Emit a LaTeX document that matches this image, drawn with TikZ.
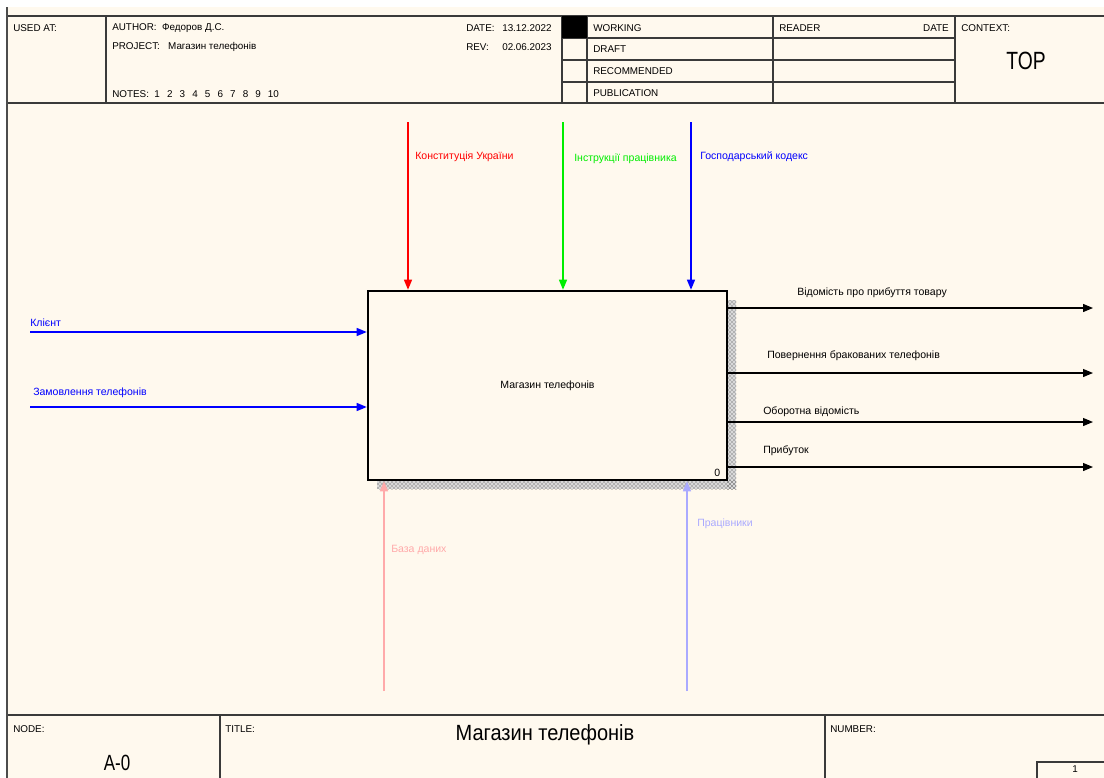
\documentclass[tikz,border=0pt]{standalone}
\usepackage{fontspec}
\setmainfont{Liberation Sans}
\usetikzlibrary{arrows.meta,patterns,calc}
\definecolor{bg}{HTML}{FFF9EE}
\definecolor{frame}{HTML}{3A3A3A}
\definecolor{ctrlred}{HTML}{FF0000}
\definecolor{ctrlgreen}{HTML}{00EE00}
\definecolor{ctrlblue}{HTML}{0000FF}
\definecolor{mechpink}{HTML}{FFAAAA}
\definecolor{mechblue}{HTML}{AAAAFF}
\tikzset{
  lbl/.style={inner sep=0pt, anchor=west, font=\fontsize{7.9}{9}\selectfont},
  hdr/.style={inner sep=0pt, anchor=west, font=\fontsize{7.4}{8.5}\selectfont},
  big/.style={inner sep=0pt, font=\fontsize{15}{17}\selectfont},
  arr/.style={-{Triangle[length=7.5pt,width=6pt]}, line width=0.9pt},
  grid/.style={draw=frame, line width=0.8pt},
}
\begin{document}
\begin{tikzpicture}[x=0.75pt,y=-0.75pt]
\useasboundingbox (0,0) rectangle (1104,778);
\fill[white] (0,0) rectangle (1104,778);
\fill[bg] (7,7) rectangle (1104,778);
% frame
\draw[line width=2pt, gray!60!black] (7,7) -- (7,778);
\draw[grid] (8,16) -- (1104,16);
\draw[grid] (8,103) -- (1104,103);
\draw[grid] (8,715) -- (1104,715);
\foreach \x in {106,562,587,773,955} \draw[grid] (\x,16) -- (\x,103);
\foreach \y in {38,60,82} \draw[grid] (562,\y) -- (955,\y);
\fill[black] (562,16) rectangle (587,38);
\draw[grid] (220,715) -- (220,778);
\draw[grid] (825,715) -- (825,778);
\draw[grid] (1037,778) -- (1037,762) -- (1104,762);
% header texts
\node[hdr] (usedat) at (13,28) {USED AT:};
\node[hdr] (author) at (112,28) {AUTHOR:\ \ Федоров Д.С.};
\node[hdr] (project) at (112,47) {PROJECT:\ \ \ Магазин телефонів};
\node[hdr] (notes) at (112,94) {NOTES:\ \ 1\ \ \,2\ \ \,3\ \ \,4\ \ \,5\ \ \,6\ \ \,7\ \ \,8\ \ \,9\ \ \,10};
\node[hdr] (date) at (466,28) {DATE:};
\node[hdr] (dateval) at (502,28) {13.12.2022};
\node[hdr] (rev) at (466,47) {REV:};
\node[hdr] (revval) at (502,47) {02.06.2023};
\node[hdr] (working) at (593,28) {WORKING};
\node[hdr] (draft) at (593,49) {DRAFT};
\node[hdr] (recom) at (593,71) {RECOMMENDED};
\node[hdr] (publ) at (593,93) {PUBLICATION};
\node[hdr] (reader) at (779,28) {READER};
\node[hdr, anchor=east] (rdate) at (949,28) {DATE};
\node[hdr] (context) at (961,28) {CONTEXT:};
\node[big, font=\fontsize{17}{19}\selectfont] (top) at (1026,61) {\scalebox{0.85}[1.1]{TOP}};
% footer texts
\node[hdr] (nodel) at (13,729) {NODE:};
\node[hdr] (titlel) at (225,729) {TITLE:};
\node[hdr] (numl) at (830,729) {NUMBER:};
\node[big] (a0) at (117,763) {\scalebox{0.85}[1.1]{A-0}};
\node[big] (title) at (545,735) {\scalebox{1.0}[1.1]{Магазин телефонів}};
\node[hdr, anchor=center] (num) at (1075,769) {1};
% shadow
\fill[black!15] (727,300) rectangle (736,489);
\fill[black!15] (377,480) rectangle (736,489);
\fill[pattern=crosshatch dots, pattern color=black!80] (727,300) rectangle (736,489);
\fill[pattern=crosshatch dots, pattern color=black!80] (377,480) rectangle (736,489);
% main box
\node[draw, line width=1.9pt, fill=bg, minimum width=269.25pt, minimum height=141.75pt, inner sep=0pt, font=\fontsize{7.9}{9}\selectfont] (box) at (547.5,385.5) {Магазин телефонів};
\node[lbl] (zero) at (714,473) {0};
% controls
\coordinate (c1) at (408,122);
\coordinate (c2) at (563,122);
\coordinate (c3) at (691,122);
\draw[arr, ctrlred] (c1) -- (c1 |- box.north);
\draw[arr, ctrlgreen] (c2) -- (c2 |- box.north);
\draw[arr, ctrlblue] (c3) -- (c3 |- box.north);
\node[lbl, text=ctrlred] (lc1) at (415,157) {Конституція України};
\node[lbl, text=ctrlgreen] (lc2) at (574,159) {Інструкції працівника};
\node[lbl, text=ctrlblue] (lc3) at (700,157) {Господарський кодекс};
% inputs
\coordinate (i1) at (30,332);
\coordinate (i2) at (30,407);
\draw[arr, ctrlblue] (i1) -- (i1 -| box.west);
\draw[arr, ctrlblue] (i2) -- (i2 -| box.west);
\node[lbl, text=ctrlblue] (li1) at (30,323) {Клієнт};
\node[lbl, text=ctrlblue] (li2) at (33,393) {Замовлення телефонів};
% outputs
\coordinate (o1) at (1093,308);
\coordinate (o2) at (1093,373);
\coordinate (o3) at (1093,422);
\coordinate (o4) at (1093,467);
\foreach \o in {o1,o2,o3,o4} \draw[arr, black] (\o -| box.east) -- (\o);
\node[lbl] (lo1) at (797,293) {Відомість про прибуття товару};
\node[lbl] (lo2) at (767,356) {Повернення бракованих телефонів};
\node[lbl] (lo3) at (763,412) {Оборотна відомість};
\node[lbl] (lo4) at (763,451) {Прибуток};
% mechanisms
\coordinate (m1) at (384,691);
\coordinate (m2) at (687,691);
\draw[arr, mechpink] (m1) -- (m1 |- box.south);
\draw[arr, mechblue] (m2) -- (m2 |- box.south);
\node[lbl, text=mechpink] (lm1) at (391,550) {База даних};
\node[lbl, text=mechblue] (lm2) at (697,524) {Працівники};
\end{tikzpicture}
\end{document}
